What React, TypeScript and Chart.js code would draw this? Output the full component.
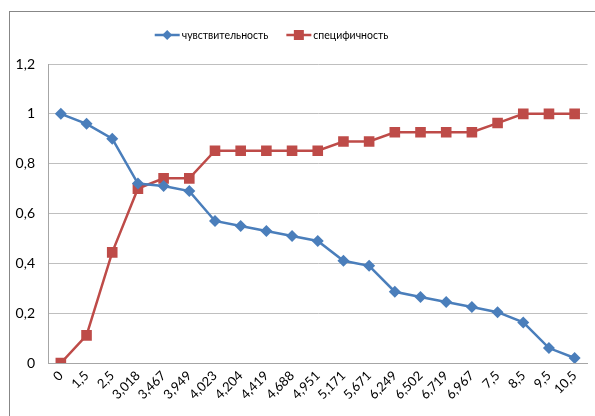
import React, { useEffect, useRef } from "react";
import { Chart, registerables } from "chart.js";

Chart.register(...registerables);

const categories = ["0", "1,5", "2,5", "3,018", "3,467", "3,949", "4,023", "4,204", "4,419", "4,688", "4,951", "5,171", "5,671", "6,249", "6,502", "6,719", "6,967", "7,5", "8,5", "9,5", "10,5"];
const sensitivity = [1.0, 0.96, 0.90, 0.72, 0.71, 0.69, 0.57, 0.55, 0.53, 0.51, 0.49, 0.41, 0.39, 0.286, 0.265, 0.245, 0.225, 0.204, 0.163, 0.06, 0.02];
const specificity = [0, 0.111, 0.444, 0.70, 0.741, 0.741, 0.852, 0.852, 0.852, 0.852, 0.852, 0.889, 0.889, 0.926, 0.926, 0.926, 0.926, 0.963, 1.0, 1.0, 1.0];
const seriesNames = ["чувствительность", "специфичность"];

const BLUE = "#4a7ebb";
const RED = "#be4b48";
const FONT = "Lato, 'Liberation Sans', sans-serif";

const framePlugin = {
  id: "frame",
  beforeDraw(chart: any) {
    const ctx = chart.ctx;
    ctx.save();
    ctx.fillStyle = "#ffffff";
    ctx.fillRect(0, 0, chart.width, chart.height);
    ctx.strokeStyle = "#878787";
    ctx.lineWidth = 1;
    ctx.strokeRect(9.5, 11.5, chart.width + 10, chart.height + 10);
    ctx.restore();
  },
};

const legendPlugin = {
  id: "customLegend",
  afterDraw(chart: any) {
    const ctx = chart.ctx;
    ctx.save();
    ctx.font = "10.5px " + FONT;
    ctx.textBaseline = "middle";
    const y = 35;
    const items = chart.data.datasets.map((ds: any) => ({
      text: ds.label,
      color: ds.borderColor,
      style: ds.pointStyle,
    }));
    const lineW = 25;
    const gap = 2;
    const between = 18;
    const widths = items.map((it: any) => lineW + gap + ctx.measureText(it.text).width);
    const total = widths.reduce((a: number, b: number) => a + b, 0) + between * (items.length - 1);
    let x = 271.5 - total / 2;
    items.forEach((it: any, i: number) => {
      ctx.strokeStyle = it.color;
      ctx.lineWidth = 2.5;
      ctx.beginPath();
      ctx.moveTo(x, y);
      ctx.lineTo(x + lineW, y);
      ctx.stroke();
      ctx.fillStyle = it.color;
      const cx = x + lineW / 2;
      if (it.style === "rect") {
        ctx.fillRect(cx - 5, y - 5, 10, 10);
      } else {
        ctx.beginPath();
        ctx.moveTo(cx, y - 5);
        ctx.lineTo(cx + 5, y);
        ctx.lineTo(cx, y + 5);
        ctx.lineTo(cx - 5, y);
        ctx.closePath();
        ctx.fill();
      }
      ctx.fillStyle = "#000000";
      ctx.textAlign = "left";
      ctx.fillText(it.text, x + lineW + gap, y + 1);
      x += widths[i] + between;
    });
    ctx.restore();
  },
};

function fmt(v: number) {
  return String(Number(v.toFixed(1))).replace(".", ",");
}

export default function App() {
  const ref = useRef<HTMLCanvasElement>(null);
  useEffect(() => {
    if (!ref.current) return;
    const chart = new Chart(ref.current, {
      type: "line",
      data: {
        labels: categories,
        datasets: [
          {
            label: seriesNames[0],
            data: sensitivity,
            borderColor: BLUE,
            backgroundColor: BLUE,
            borderWidth: 2.5,
            pointStyle: "rectRot",
            pointRadius: 6,
            pointBorderWidth: 0,
            tension: 0,
          },
          {
            label: seriesNames[1],
            data: specificity,
            borderColor: RED,
            backgroundColor: RED,
            borderWidth: 2.5,
            pointStyle: "rect",
            pointRadius: 7.5,
            pointBorderWidth: 0,
            tension: 0,
          },
        ],
      },
      options: {
        responsive: false,
        animation: false,
        layout: { padding: { top: 64, left: 0, right: 4, bottom: 0 } },
        plugins: {
          legend: { display: false },
          tooltip: { enabled: false },
        },
        scales: {
          x: {
            offset: true,
            grid: { display: false, drawTicks: false },
            border: { display: true, color: "#a6a6a6", width: 1 },
            ticks: {
              minRotation: 45,
              maxRotation: 45,
              autoSkip: false,
              padding: 5,
              color: "#000000",
              font: { family: FONT, size: 13 },
            },
            afterFit(scale: any) {
              scale.height = 53;
            },
          },
          y: {
            min: 0,
            max: 1.2,
            grid: { color: "#bfbfbf", drawTicks: false, lineWidth: 1 },
            border: { display: true, color: "#a6a6a6", width: 1 },
            ticks: {
              stepSize: 0.2,
              padding: 13,
              color: "#000000",
              font: { family: FONT, size: 14 },
              callback: (v: any) => fmt(Number(v)),
            },
            afterFit(scale: any) {
              scale.width = 48;
            },
          },
        },
      },
      plugins: [framePlugin, legendPlugin],
    });
    return () => chart.destroy();
  }, []);
  return (
    <div style={{ position: "fixed", left: 0, top: 0, width: 595, height: 416 }}>
      <canvas ref={ref} width={595} height={416} style={{ display: "block" }} />
    </div>
  );
}
